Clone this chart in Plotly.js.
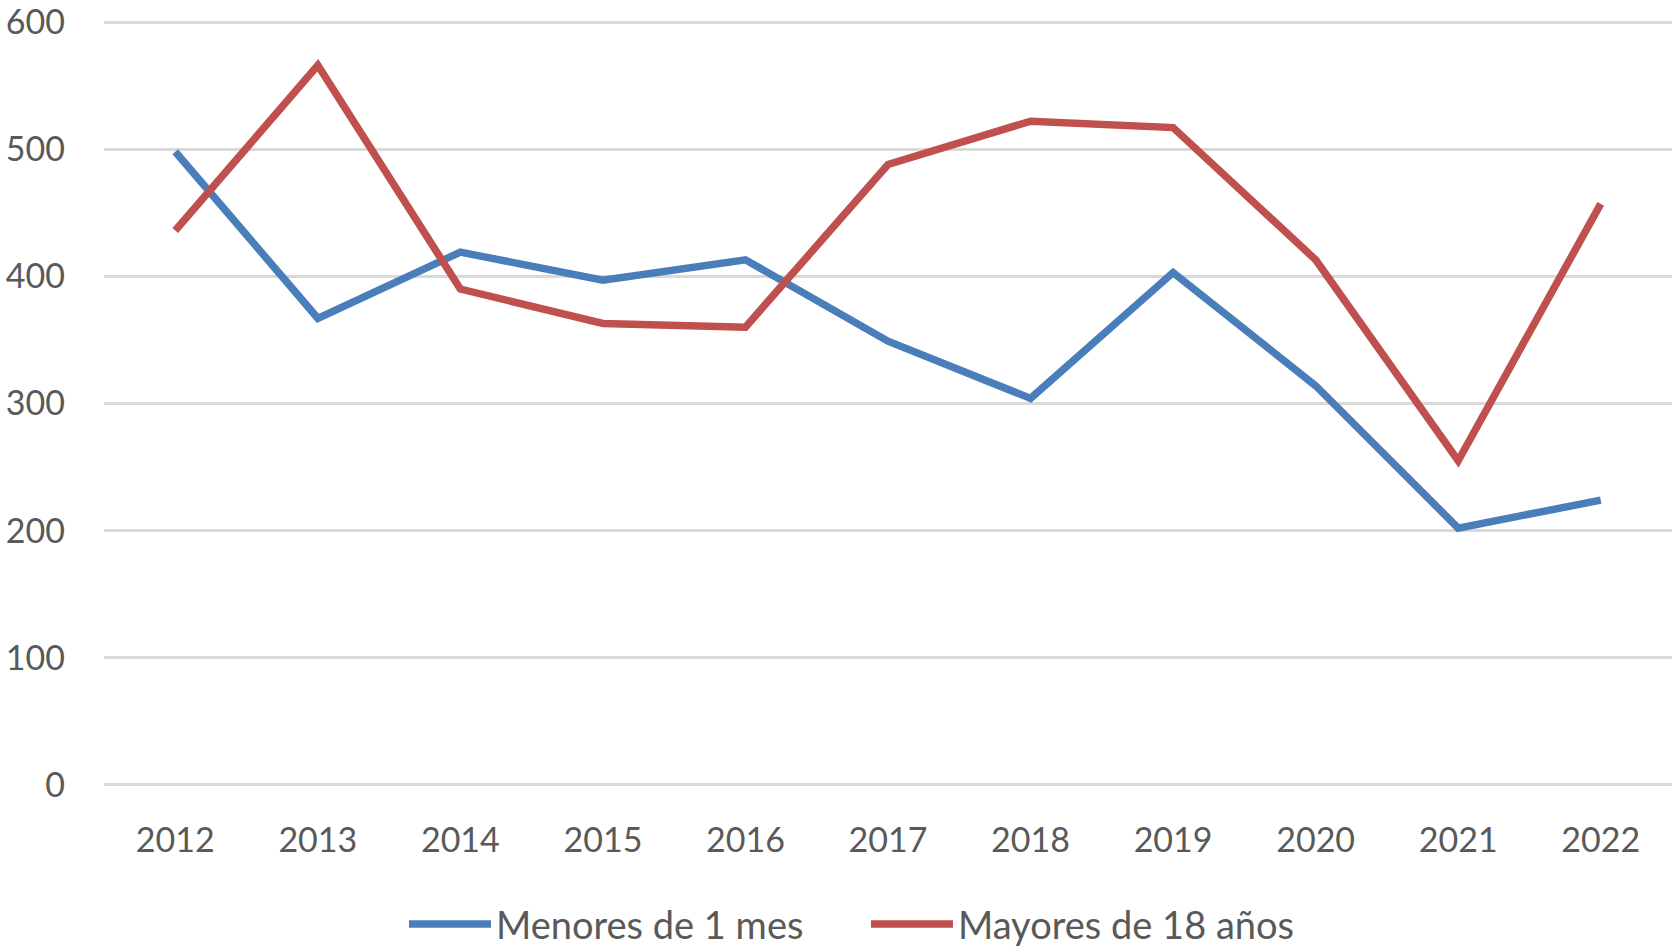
<!DOCTYPE html>
<html>
<head>
<meta charset="utf-8">
<script src="https://cdn.plot.ly/plotly-3.0.1.min.js"></script>
<style>html,body{margin:0;padding:0;background:#fff;}#chart{width:1675px;height:950px;}</style>
</head>
<body>
<div id="chart"></div>
<script>
const years = ['2012','2013','2014','2015','2016','2017','2018','2019','2020','2021','2022'];
const menores = [498, 367, 419, 397, 413, 349, 304, 403, 314, 202, 224];
const mayores = [436, 566, 390, 363, 360, 488, 522, 517, 413, 255, 457];
const seriesNames = ['Menores de 1 mes', 'Mayores de 18 años'];
const yTicks = [0, 100, 200, 300, 400, 500, 600];

const font = {family: 'Lato, "Open Sans", sans-serif', size: 34, color: '#595959'};
const legendFont = {family: 'Lato, "Open Sans", sans-serif', size: 38, color: '#595959'};

const traces = [
  {x: years, y: menores, name: seriesNames[0], type: 'scatter', mode: 'lines',
   line: {color: '#4a7ebb', width: 7.5}},
  {x: years, y: mayores, name: seriesNames[1], type: 'scatter', mode: 'lines',
   line: {color: '#c0504d', width: 7.5}}
];

const layout = {
  width: 1675, height: 950,
  margin: {l: 104, r: 3, t: 20, b: 163},
  paper_bgcolor: '#fff', plot_bgcolor: '#fff',
  font: font,
  showlegend: true,
  xaxis: {
    type: 'category', range: [-0.5, 10.5], fixedrange: true,
    showgrid: false, zeroline: false, showline: false,
    ticks: '', tickfont: font, ticklabelstandoff: 30
  },
  yaxis: {
    range: [-1.6, 601.6], tickvals: yTicks, ticktext: yTicks.map(String),
    showgrid: true, gridcolor: '#d9d9d9', gridwidth: 3,
    zeroline: false, showline: false, ticks: '',
    tickfont: font, ticklabelstandoff: 38, ticklabeloverflow: 'allow'
  },
  legend: {
    orientation: 'h', xref: 'container', yref: 'container',
    x: 0.517, xanchor: 'center', y: 0.027, yanchor: 'middle',
    font: legendFont, itemwidth: 82, entrywidth: 365, entrywidthmode: 'pixels',
    traceorder: 'normal', bgcolor: 'rgba(0,0,0,0)'
  }
};

Plotly.newPlot('chart', traces, layout, {displayModeBar: false, staticPlot: true});
</script>
</body>
</html>
